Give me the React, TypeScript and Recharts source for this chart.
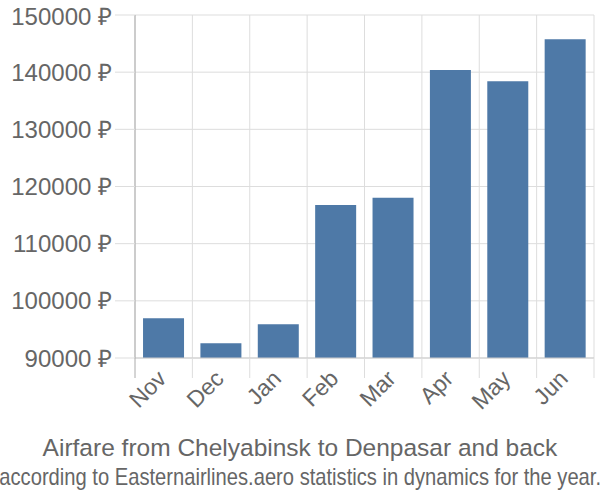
import { BarChart, Bar, XAxis, YAxis, CartesianGrid } from 'recharts';

const months = ['Nov', 'Dec', 'Jan', 'Feb', 'Mar', 'Apr', 'May', 'Jun'];
const prices = [96940, 92570, 95890, 116760, 118040, 140380, 138400, 145750];
const yTicks = [90000, 100000, 110000, 120000, 130000, 140000, 150000];

const data = months.map((m, i) => ({ month: m, price: prices[i] }));

const font = '"Liberation Sans", Arial, sans-serif';

// tick marks sit on the category edges, labels in the middle
const MonthTick = (props: any) => {
  const { x, y, payload, width, visibleTicksCount, index } = props;
  const band = width / visibleTicksCount;
  return (
    <g>
      <line x1={x - band / 2} x2={x - band / 2} y1={y} y2={y + 20} stroke={index === 0 ? '#aaa' : '#ddd'} />
      {index === visibleTicksCount - 1 && (
        <line x1={x + band / 2} x2={x + band / 2} y1={y} y2={y + 20} stroke="#ddd" />
      )}
      <g transform={`translate(${x + 4},${y + 22}) rotate(-45)`}>
        <text x={0} y={0} textAnchor="end" fill="#666" fontSize={23} fontFamily={font}>
          {payload.value}
        </text>
      </g>
    </g>
  );
};

const App = () => {
  return (
    <div style={{ position: 'absolute', left: 0, top: 0, width: 600, height: 500, background: '#fff' }}>
      <BarChart
        width={600}
        height={500}
        data={data}
        margin={{ top: 15, right: 6, left: 0, bottom: 112 }}
        barCategoryGap="14%"
      >
        <CartesianGrid
          stroke="#ddd"
          verticalCoordinatesGenerator={({ offset }: any) =>
            [...months.map((_, i) => i), months.length].map(
              (i) => offset.left + (i * offset.width) / months.length
            )
          }
        />
        <XAxis
          dataKey="month"
          tick={<MonthTick />}
          tickLine={false}
          axisLine={{ stroke: '#ccc' }}
          tickSize={0}
          tickMargin={0}
          interval={0}
          height={30}
        />
        <YAxis
          width={135}
          domain={[90000, 150000]}
          ticks={yTicks}
          tickFormatter={(v: number) => `${v} ₽`}
          tickSize={20}
          tickMargin={3}
          tickLine={{ stroke: '#ddd' }}
          axisLine={{ stroke: '#aaa' }}
          tick={{ fill: '#666', fontSize: 24, fontFamily: font }}
        />
        <Bar dataKey="price" fill="#4e79a7" isAnimationActive={false} />
      </BarChart>
      <div style={{ position: 'absolute', left: 0, top: 434, width: 600, textAlign: 'center', fontFamily: font, fontSize: 24.5, lineHeight: '28px', color: '#666', whiteSpace: 'nowrap' }}>
        Airfare from Chelyabinsk to Denpasar and back
      </div>
      <div style={{ position: 'absolute', left: -100, top: 463, width: 800, textAlign: 'center', fontFamily: font, fontSize: 24, lineHeight: '28px', color: '#666', whiteSpace: 'nowrap' }}>
        <span style={{ display: 'inline-block', transform: 'scaleX(0.84)', transformOrigin: 'center' }}>
          according to Easternairlines.aero statistics in dynamics for the year.
        </span>
      </div>
    </div>
  );
};

export default App;
